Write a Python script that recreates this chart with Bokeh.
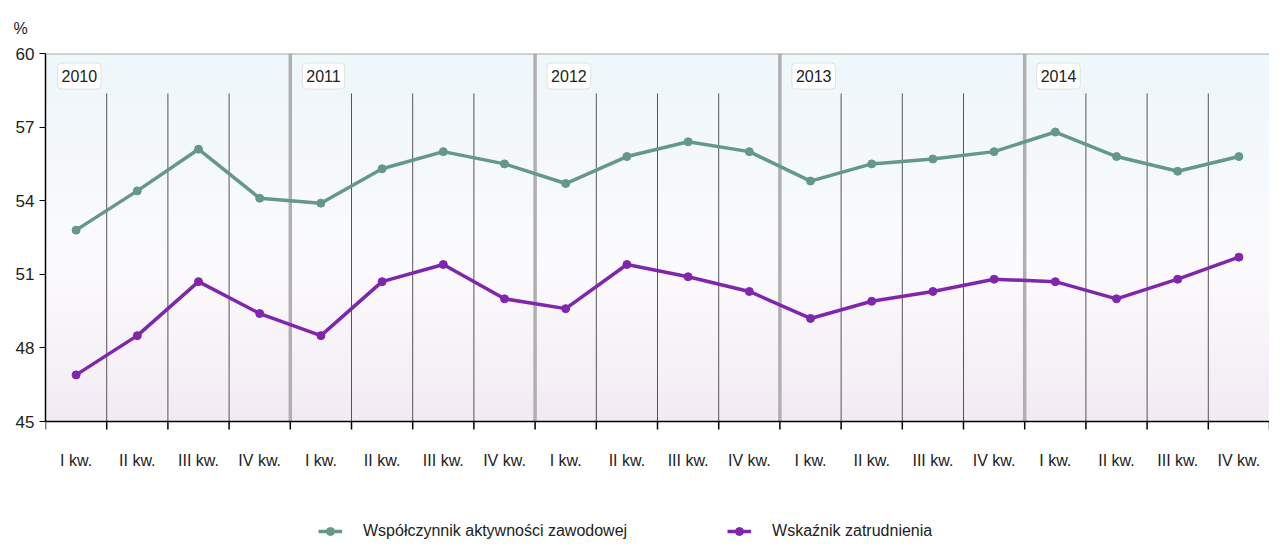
import numpy as np
from bokeh.plotting import figure
from bokeh.models import Range1d, FixedTicker, Label, Legend, LegendItem, Span
from bokeh.core.properties import value
from bokeh.embed import file_html
from bokeh.resources import INLINE

years = ["2010", "2011", "2012", "2013", "2014"]
quarters = ["I kw.", "II kw.", "III kw.", "IV kw."]
activity = [52.8, 54.4, 56.1, 54.1,
            53.9, 55.3, 56.0, 55.5,
            54.7, 55.8, 56.4, 56.0,
            54.8, 55.5, 55.7, 56.0,
            56.8, 55.8, 55.2, 55.8]
employment = [46.9, 48.5, 50.7, 49.4,
              48.5, 50.7, 51.4, 50.0,
              49.6, 51.4, 50.9, 50.3,
              49.2, 49.9, 50.3, 50.8,
              50.7, 50.0, 50.8, 51.7]
y_ticks = [45, 48, 51, 54, 57, 60]
series_names = ["Współczynnik aktywności zawodowej", "Wskaźnik zatrudnienia"]
unit = "%"

FONT = "Liberation Sans"
GREEN = "#649889"
PURPLE = "#7f26ad"
TXT = "#222222"

nq = len(quarters)
n = len(years) * nq
xc = [i + 0.5 for i in range(n)]
ymin, ymax = y_ticks[0], y_ticks[-1]

# layout: data area 368 px tall for 45..60, extra room below for the
# quarter labels and the legend
PLOT_H = 368
FRAME_H = 488
ppu = PLOT_H / (ymax - ymin)
ylow = ymax - FRAME_H / ppu

p = figure(frame_width=1224, frame_height=FRAME_H,
           x_range=Range1d(0, n), y_range=Range1d(ylow, ymax),
           output_backend="svg", toolbar_location=None,
           min_border_left=45, min_border_right=0, min_border_top=53,
           min_border_bottom=0, title=unit)
p.outline_line_color = None
p.border_fill_color = "white"
p.background_fill_color = "white"
p.title.align = "left"
p.title.offset = -32
p.title.standoff = 34
p.title.text_font = FONT
p.title.text_font_size = "16px"
p.title.text_font_style = "normal"
p.title.text_color = TXT

# background gradient (blue top -> white -> lavender bottom)
rows = 184
fr = np.linspace(0, 1, rows)[:, None]
bottom = np.array([243, 235, 244])
mid = np.array([252, 251, 253])
top = np.array([238, 247, 251])
cols = np.where(fr < 0.42,
                bottom + (mid - bottom) * (fr / 0.42),
                mid + (top - mid) * ((fr - 0.42) / 0.58))
img = np.empty((rows, 1), dtype=np.uint32)
view = img.view(dtype=np.uint8).reshape((rows, 1, 4))
view[:, 0, 0] = cols[:, 0]
view[:, 0, 1] = cols[:, 1]
view[:, 0, 2] = cols[:, 2]
view[:, 0, 3] = 255
p.image_rgba(image=[img], x=0, y=ymin, dw=n, dh=ymax - ymin)

# grids
p.xgrid.visible = False
p.ygrid.ticker = FixedTicker(ticks=y_ticks[1:-1])
p.ygrid.grid_line_color = "#606060"
p.ygrid.grid_line_width = 1
p.add_layout(Span(location=ymax, dimension="width", line_color="#a8a8a8", line_width=2))

q_bounds = [i for i in range(1, n) if i % nq != 0]
y_bounds = [i for i in range(1, n) if i % nq == 0]
p.segment(x0=q_bounds, y0=[ymin] * len(q_bounds), x1=q_bounds,
          y1=[58.37] * len(q_bounds), line_color="#555555", line_width=1)
p.segment(x0=y_bounds, y0=[ymin] * len(y_bounds), x1=y_bounds,
          y1=[ymax] * len(y_bounds), line_color="#b0b0b0", line_width=3.5)

# series
l1 = p.line(xc, activity, line_color=GREEN, line_width=3.5)
s1 = p.scatter(xc, activity, size=8, fill_color=GREEN, line_color=GREEN)
l2 = p.line(xc, employment, line_color=PURPLE, line_width=3.5)
s2 = p.scatter(xc, employment, size=8, fill_color=PURPLE, line_color=PURPLE)

# y axis
p.yaxis.ticker = FixedTicker(ticks=y_ticks)
p.yaxis.bounds = (ymin, ymax)
p.yaxis.major_label_text_font = FONT
p.yaxis.major_label_text_font_size = "17px"
p.yaxis.major_label_text_color = TXT
p.yaxis.major_tick_out = 6
p.yaxis.major_tick_in = 0
p.yaxis.minor_tick_out = 0
p.yaxis.axis_line_color = "black"
p.yaxis.axis_line_width = 1.5
p.yaxis.major_tick_line_color = "black"
p.yaxis.major_label_standoff = 5

# category axis along y = 45
p.xaxis.visible = False
bounds_all = list(range(n + 1))
tick_len = 8 / ppu
p.segment(x0=[0], y0=[ymin], x1=[n], y1=[ymin], line_color="black", line_width=1.5)
p.segment(x0=bounds_all, y0=[ymin] * len(bounds_all), x1=bounds_all,
          y1=[ymin - tick_len] * len(bounds_all), line_color="black", line_width=1.5)
p.text(x=xc, y=[ymin] * n, text=[quarters[i % nq] for i in range(n)],
       y_offset=39, text_align="center", text_baseline="middle",
       text_font=value(FONT), text_font_size="16px", text_color=TXT)

# year labels
for k, yr in enumerate(years):
    p.add_layout(Label(x=k * nq, y=59.08, x_offset=12, text=yr,
                       text_baseline="middle", text_font=FONT,
                       text_font_size="16px", text_color=TXT,
                       background_fill_color="white",
                       border_line_color="#e2e2e2", padding=(4, 7),
                       border_radius=4))

# legend
lg = Legend(items=[LegendItem(label=series_names[0], renderers=[l1, s1]),
                   LegendItem(label=series_names[1], renderers=[l2, s2])],
            location=(273, 0), orientation="horizontal", padding=0, margin=0,
            spacing=100, border_line_color=None, background_fill_alpha=0,
            glyph_width=24, glyph_height=20, label_standoff=21,
            label_text_font=FONT, label_text_font_size="16px",
            label_text_color=TXT)
p.add_layout(lg, "center")

open("out.html", "w").write(file_html(p, INLINE))
